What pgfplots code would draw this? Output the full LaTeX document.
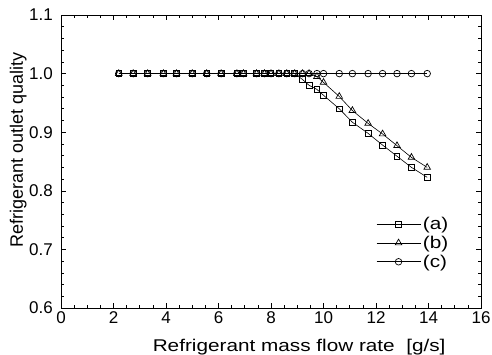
\documentclass[border=0pt]{standalone}
\usepackage{fontspec}
\setmainfont{Liberation Sans}
\newfontfamily\widefont{Liberation Sans}[FakeStretch=1.22]
\usepackage{pgfplots}
\pgfplotsset{compat=1.18}
\begin{document}
\begin{tikzpicture}
\path[use as bounding box] (-61pt,-46pt) rectangle (431pt,308pt);
\begin{axis}[
  scale only axis,
  width=420pt, height=293pt,
  xmin=0, xmax=16, ymin=0.6, ymax=1.1,
  xtick={0,2,...,16}, ytick={0.6,0.7,...,1.1},
  minor x tick num=3, minor y tick num=4,
  tick align=inside,
  major tick length=5pt, minor tick length=3pt,
  every tick/.style={black, line width=0.6pt},
  axis line style={line width=1pt},
  /pgf/number format/assume math mode=true,
  /pgf/number format/fixed, /pgf/number format/precision=1,
  yticklabel style={/pgf/number format/fixed zerofill, font=\fontsize{17}{20}\selectfont, inner sep=0pt, xshift=-8pt},
  xticklabel style={font=\fontsize{17}{20}\selectfont, inner sep=0pt, yshift=-3.7pt},
  xlabel={Refrigerant mass flow rate\ \ [g/s]},
  ylabel={Refrigerant outlet quality},
  xlabel style={font=\widefont\fontsize{17}{20}\selectfont, at={(axis description cs:0.567,-0.1468)}, anchor=base},
  ylabel style={font=\fontsize{18}{20}\selectfont, at={(axis description cs:-0.0905,0.539)}, anchor=base},
  legend image code/.code={\draw[mark repeat=2,mark phase=2] plot coordinates {(0pt,0pt) (22pt,0pt) (44pt,0pt)};},
  legend style={draw=none, fill=none, at={(axis description cs:0.743,0.222)}, anchor=west,
    font=\widefont\fontsize{17}{20}\selectfont, row sep=1pt,
    /tikz/every even column/.append style={column sep=5pt}},
  legend cell align=left,
]
\addplot[black, line width=0.6pt, mark=square, mark size=2.8pt, mark options={fill=white, solid, line width=0.7pt}] coordinates {
(2.2,1.0)(2.75,1.0)(3.3,1.0)(3.9,1.0)(4.4,1.0)(5.0,1.0)(5.55,1.0)(6.1,1.0)(6.7,1.0)(6.95,1.0)
(7.45,1.0)(7.75,1.0)(8.0,1.0)(8.3,1.0)(8.6,1.0)(8.9,1.0)
(9.2,0.990)(9.45,0.980)(9.75,0.973)(10.0,0.963)(10.6,0.940)(11.1,0.917)(11.7,0.898)(12.25,0.878)(12.8,0.859)(13.35,0.840)(13.95,0.823)};
\addlegendentry{(a)}
\addplot[black, line width=0.6pt, mark=triangle, mark size=3.8pt, mark options={fill=white, solid, line width=0.7pt}] coordinates {
(2.2,1.0)(2.75,1.0)(3.3,1.0)(3.9,1.0)(4.4,1.0)(5.0,1.0)(5.55,1.0)(6.1,1.0)(6.7,1.0)(6.95,1.0)
(7.45,1.0)(7.75,1.0)(8.0,1.0)(8.3,1.0)(8.6,1.0)(8.9,1.0)(9.2,1.0)(9.45,1.0)
(9.75,0.995)(10.0,0.985)(10.6,0.961)(11.1,0.937)(11.7,0.915)(12.25,0.897)(12.8,0.877)(13.35,0.857)(13.95,0.840)};
\addlegendentry{(b)}
\addplot[black, line width=0.6pt, mark=o, mark size=3.3pt, mark options={fill=white, solid, line width=0.7pt}] coordinates {
(2.2,1.0)(2.75,1.0)(3.3,1.0)(3.9,1.0)(4.4,1.0)(5.0,1.0)(5.55,1.0)(6.1,1.0)(6.7,1.0)(6.95,1.0)
(7.45,1.0)(7.75,1.0)(8.0,1.0)(8.3,1.0)(8.6,1.0)(8.9,1.0)(9.2,1.0)(9.45,1.0)(9.75,1.0)(10.0,1.0)
(10.6,1.0)(11.1,1.0)(11.7,1.0)(12.25,1.0)(12.8,1.0)(13.35,1.0)(13.95,1.0)};
\addlegendentry{(c)}
\end{axis}
\end{tikzpicture}
\end{document}
